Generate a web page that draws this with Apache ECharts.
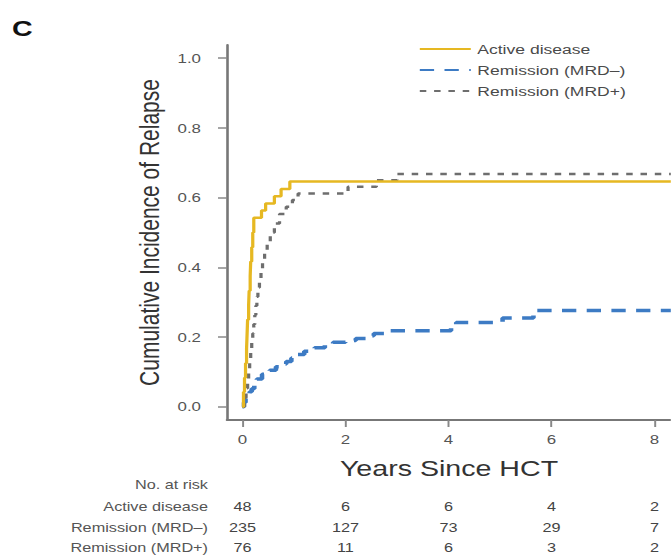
<!DOCTYPE html>
<html>
<head>
<meta charset="utf-8">
<script src="https://cdn.jsdelivr.net/npm/echarts@6/dist/echarts.min.js"></script>
<style>
  html, body { margin: 0; padding: 0; background: #fff; overflow: hidden; }
  #chart { width: 516px; height: 560px; transform-origin: 0 0; }
</style>
</head>
<body>
<div id="chart"></div>
<script>
// Cumulative incidence of relapse by disease status before HCT.

const xTicks = [0, 2, 4, 6, 8];
const yTicks = [0, 0.2, 0.4, 0.6, 0.8, 1.0];

const seriesNames = ['Active disease', 'Remission (MRD–)', 'Remission (MRD+)'];

// Active disease: event times (years) and cumulative incidence after each event
const activeYears = [0, 0.02, 0.04, 0.06, 0.08, 0.09, 0.10, 0.12, 0.13, 0.15, 0.16, 0.18, 0.20, 0.22, 0.37, 0.45, 0.62, 0.75, 0.92, 8.32];
const activeCif   = [0, 0.042, 0.083, 0.125, 0.167, 0.208, 0.250, 0.292, 0.333, 0.375, 0.417, 0.458, 0.500, 0.542, 0.563, 0.583, 0.604, 0.625, 0.646, 0.646];

// Remission, MRD negative
const mrdNegYears = [0, 0.03, 0.06, 0.10, 0.14, 0.18, 0.23, 0.28, 0.38, 0.53, 0.65, 0.75, 0.85, 0.95, 1.05, 1.20, 1.40, 1.60, 1.76, 2.00, 2.20, 2.40, 2.55, 2.75, 4.05, 4.15, 5.05, 5.65, 8.32];
const mrdNegCif   = [0, 0.012, 0.024, 0.034, 0.043, 0.052, 0.066, 0.080, 0.093, 0.105, 0.115, 0.123, 0.130, 0.140, 0.150, 0.159, 0.169, 0.177, 0.185, 0.190, 0.196, 0.204, 0.210, 0.218, 0.228, 0.242, 0.255, 0.276, 0.276];

// Remission, MRD positive
const mrdPosYears = [0, 0.04, 0.07, 0.10, 0.12, 0.14, 0.16, 0.18, 0.20, 0.22, 0.24, 0.26, 0.28, 0.30, 0.33, 0.36, 0.39, 0.43, 0.48, 0.54, 0.62, 0.72, 0.85, 0.97, 1.08, 2.05, 2.60, 3.00, 8.32];
const mrdPosCif   = [0, 0.026, 0.053, 0.079, 0.105, 0.132, 0.158, 0.184, 0.210, 0.237, 0.263, 0.290, 0.316, 0.342, 0.368, 0.395, 0.421, 0.447, 0.474, 0.500, 0.526, 0.553, 0.574, 0.593, 0.612, 0.631, 0.650, 0.668, 0.668];

// Number at risk at each labelled time point
const riskTitle = 'No. at risk';
const riskActive = [48, 6, 6, 4, 2];
const riskMrdNeg = [235, 127, 73, 29, 7];
const riskMrdPos = [76, 11, 6, 3, 2];

const colors = ['#e6b822', '#3d7bc4', '#6e6e6e'];

// The figure is drawn narrower and widened horizontally as a whole.
const STRETCH = 1.3;
const WIDTH = 671 / STRETCH;
const HEIGHT = 560;
const sx = v => v / STRETCH;

const dom = document.getElementById('chart');
dom.style.width = WIDTH + 'px';
dom.style.transform = 'scaleX(' + STRETCH + ')';

const chart = echarts.init(dom, null, { renderer: 'svg', width: WIDTH, height: HEIGHT });

const zip = (xs, ys) => xs.map((x, i) => [x, ys[i]]);
const font = 'Liberation Sans, Arial, Helvetica, sans-serif';

chart.setOption({
  animation: false,
  backgroundColor: '#fff',
  textStyle: { fontFamily: font },
  grid: { left: sx(227), right: 0, top: 45, bottom: 140, outerBoundsMode: 'none' },
  legend: {
    data: seriesNames,
    orient: 'vertical',
    left: sx(412),
    top: 37,
    itemWidth: sx(51),
    itemHeight: 12,
    itemGap: 7,
    itemStyle: { opacity: 0 },
    textStyle: { fontSize: 13.5, color: '#4a4a4a', fontFamily: font },
    selectedMode: false
  },
  xAxis: {
    type: 'value',
    min: -0.3,
    max: 8.32,
    name: 'Years Since HCT',
    nameLocation: 'middle',
    nameGap: 37,
    nameTextStyle: { fontSize: 22, color: '#333', fontFamily: font },
    splitLine: { show: false },
    axisLine: { show: true, onZero: false, lineStyle: { color: '#777', width: 2 } },
    axisTick: { show: true, customValues: xTicks, length: 7, lineStyle: { color: '#888', width: 1.5 } },
    axisLabel: { customValues: xTicks, margin: 13, fontSize: 13, color: '#555', fontFamily: font }
  },
  yAxis: {
    type: 'value',
    min: -0.038,
    max: 1.038,
    name: 'Cumulative Incidence of Relapse',
    nameLocation: 'middle',
    nameGap: 47,
    nameTextStyle: { fontSize: 21, color: '#333', fontFamily: font },
    splitLine: { show: false },
    axisLine: { show: true, onZero: false, lineStyle: { color: '#777', width: 2 } },
    axisTick: { show: true, customValues: yTicks, length: sx(9), lineStyle: { color: '#888', width: 1.5 } },
    axisLabel: {
      customValues: yTicks,
      margin: sx(26),
      fontSize: 13,
      color: '#555',
      fontFamily: font,
      formatter: v => v.toFixed(1)
    }
  },
  series: [
    {
      name: seriesNames[1],
      type: 'line',
      step: 'end',
      symbol: 'none',
      data: zip(mrdNegYears, mrdNegCif),
      lineStyle: { color: colors[1], width: 3.5, type: [11, 8] },
      itemStyle: { color: colors[1] },
      z: 2
    },
    {
      name: seriesNames[2],
      type: 'line',
      step: 'end',
      symbol: 'none',
      data: zip(mrdPosYears, mrdPosCif),
      lineStyle: { color: colors[2], width: 2.5, type: [5, 6] },
      itemStyle: { color: colors[2] },
      z: 3
    },
    {
      name: seriesNames[0],
      type: 'line',
      step: 'end',
      symbol: 'none',
      data: zip(activeYears, activeCif),
      lineStyle: { color: colors[0], width: 2.5 },
      itemStyle: { color: colors[0] },
      z: 4
    }
  ]
});

// Panel letter and the numbers-at-risk table under the x axis
const graphics = [
  {
    type: 'text',
    left: sx(12),
    top: 17,
    style: { text: 'C', fontSize: 22, fontWeight: 'bold', fill: '#111', fontFamily: font }
  }
];

const labelRight = sx(208);
const rowY = [485, 507, 527.5, 548];
const rowLabels = [riskTitle, seriesNames[0], seriesNames[1], seriesNames[2]];
rowLabels.forEach((label, i) => {
  graphics.push({
    type: 'text',
    x: labelRight,
    y: rowY[i],
    style: {
      text: label, fontSize: 12.5, fill: '#555', fontFamily: font,
      align: 'right', verticalAlign: 'middle'
    }
  });
});

const riskRows = [riskActive, riskMrdNeg, riskMrdPos];
riskRows.forEach((row, r) => {
  row.forEach((n, i) => {
    const px = chart.convertToPixel({ xAxisIndex: 0 }, xTicks[i]);
    graphics.push({
      type: 'text',
      x: px,
      y: rowY[r + 1],
      style: {
        text: String(n), fontSize: 12.5, fill: '#444', fontFamily: font,
        align: 'center', verticalAlign: 'middle'
      }
    });
  });
});

chart.setOption({ graphic: graphics });
</script>
</body>
</html>
